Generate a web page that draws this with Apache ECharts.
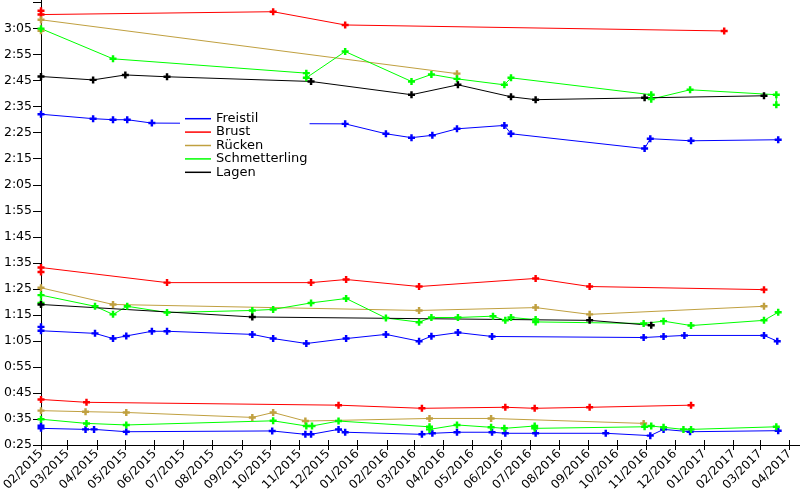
<!DOCTYPE html>
<html><head><meta charset="utf-8">
<script src="https://cdn.jsdelivr.net/npm/echarts@6/dist/echarts.min.js"></script>
<style>html,body{margin:0;padding:0;background:#fff}#c{width:800px;height:500px}</style>
</head><body><div id="c"></div>
<script>
const strokes = ['Freistil', 'Brust', 'Rücken', 'Schmetterling', 'Lagen'];
const colors = ['#0000ff', '#ff0000', '#c0a040', '#00ff00', '#000000'];

const freistil50 = [['2015-02-01',32.4],['2015-02-01',31.4],['2015-03-20',31.0],['2015-03-29',31.0],['2015-05-02',30.1],['2015-10-03',30.4],['2015-11-07',29.1],['2015-11-13',29.1],['2015-12-12',31.0],['2015-12-19',29.9],['2016-03-09',29.1],['2016-03-20',29.5],['2016-04-15',29.9],['2016-05-22',29.9],['2016-06-05',29.5],['2016-07-07',29.5],['2016-09-19',29.5],['2016-11-05',28.6],['2016-11-19',31.0],['2016-12-17',30.1],['2017-03-20',30.5]];
const freistil100 = [['2015-02-01',70.4],['2015-02-01',68.9],['2015-03-30',67.9],['2015-04-18',65.9],['2015-05-02',66.9],['2015-05-29',68.7],['2015-06-14',68.7],['2015-09-12',67.5],['2015-10-04',65.9],['2015-11-08',64.0],['2015-12-20',65.9],['2016-01-31',67.5],['2016-03-06',64.9],['2016-03-19',66.8],['2016-04-16',68.2],['2016-05-22',66.7],['2016-10-29',66.3],['2016-11-19',66.7],['2016-12-11',67.1],['2017-03-05',67.1],['2017-03-19',64.9]];
const freistil200 = [['2015-02-01',152.1],['2015-03-28',150.4],['2015-04-18',150.0],['2015-05-03',150.0],['2015-05-29',148.7],['2015-12-19',148.4],['2016-01-31',144.6],['2016-02-27',143.1],['2016-03-20',144.0],['2016-04-15',146.5],['2016-06-04',147.8],['2016-06-11',144.6],['2016-10-30',138.9],['2016-11-05',142.7],['2016-12-18',141.9],['2017-03-20',142.3]];

const brust50 = [['2015-02-01',42.5],['2015-03-21',41.4],['2015-12-12',40.3],['2016-03-09',39.1],['2016-06-05',39.5],['2016-07-06',39.1],['2016-09-02',39.5],['2016-12-18',40.3]];
const brust100 = [['2015-02-01',91.5],['2015-02-01',93.2],['2015-06-14',87.4],['2015-11-13',87.4],['2015-12-20',88.6],['2016-03-06',85.9],['2016-07-07',89.0],['2016-09-02',85.9],['2017-03-05',84.7]];
const brust200 = [['2015-02-01',191.9],['2015-02-01',190.4],['2015-10-04',191.5],['2015-12-19',186.4],['2017-01-22',184.1]];

const ruecken50 = [['2015-02-01',38.2],['2015-03-20',37.8],['2015-05-02',37.5],['2015-09-12',35.6],['2015-10-04',37.5],['2015-11-07',34.2],['2016-03-17',35.2],['2016-05-21',35.2],['2016-10-29',33.3]];
const ruecken100 = [['2015-02-01',85.4],['2015-04-18',79.0],['2016-03-06',76.7],['2016-07-07',77.8],['2016-09-02',75.2],['2017-03-05',78.3]];
const ruecken200 = [['2015-02-01',184.2],['2015-02-01',188.4],['2016-04-15',167.7]];

const schmetterling50 = [['2015-02-01',34.9],['2015-03-21',33.3],['2015-05-02',32.7],['2015-10-04',34.3],['2015-11-08',32.3],['2015-11-14',32.3],['2015-12-12',34.2],['2016-03-17',32.0],['2016-03-17',31.0],['2016-04-15',32.7],['2016-05-21',31.8],['2016-06-04',31.4],['2016-07-06',32.3],['2016-07-06',31.4],['2016-10-30',32.0],['2016-11-06',32.3],['2016-11-19',31.8],['2016-12-10',31.0],['2016-12-18',31.0],['2017-03-18',32.0]];
const schmetterling100 = [['2015-02-01',79.6],['2015-02-01',82.6],['2015-03-30',78.3],['2015-04-18',75.2],['2015-05-03',78.3],['2015-06-14',75.9],['2015-09-12',76.7],['2015-10-04',77.1],['2015-11-13',79.6],['2015-12-20',81.3],['2016-01-31',73.8],['2016-03-06',72.2],['2016-03-19',74.0],['2016-04-16',74.0],['2016-05-23',74.5],['2016-06-05',72.9],['2016-06-11',74.0],['2016-07-07',73.2],['2016-07-07',72.3],['2016-10-29',71.7],['2016-11-19',72.6],['2016-12-18',70.9],['2017-03-05',72.9],['2017-03-20',76.0]];
const schmetterling200 = [['2015-02-01',185.0],['2015-04-18',173.4],['2015-11-08',167.9],['2015-11-08',166.1],['2015-12-19',176.2],['2016-02-27',164.7],['2016-03-19',167.4],['2016-04-15',165.7],['2016-06-04',163.4],['2016-06-11',166.1],['2016-11-06',159.6],['2016-11-06',157.9],['2016-12-17',161.5],['2017-03-18',159.6],['2017-03-18',155.7]];

const lagen100 = [['2015-02-01',79.0],['2015-09-12',74.2],['2016-09-02',72.9],['2016-11-06',71.0]];
const lagen200 = [['2015-02-01',166.6],['2015-03-28',165.3],['2015-05-01',167.2],['2015-06-14',166.5],['2015-11-13',164.7],['2016-02-27',159.6],['2016-04-16',163.4],['2016-06-11',158.8],['2016-07-07',157.7],['2016-10-30',158.4],['2017-03-05',159.2]];

const yTickStart = 25, yTickStep = 10, yLastLabel = 185;
const xMin = '2015-02-01', xMax = '2017-04-12';

const seriesByStroke = {
  'Freistil': [freistil50, freistil100, freistil200],
  'Brust': [brust50, brust100, brust200],
  'Rücken': [ruecken50, ruecken100, ruecken200],
  'Schmetterling': [schmetterling50, schmetterling100, schmetterling200],
  'Lagen': [lagen100, lagen200]
};

const pad = n => (n < 10 ? '0' : '') + n;
const plus = 'path://M2.6,0H5.4V2.6H8V5.4H5.4V8H2.6V5.4H0V2.6H2.6Z';
const FONT = 'DejaVu Sans';

const series = [];
strokes.forEach((s, i) => {
  seriesByStroke[s].forEach(d => {
    series.push({
      type: 'line', name: s, data: d,
      symbol: plus, symbolSize: 7, showAllSymbol: true, clip: false,
      animation: false,
      lineStyle: { color: colors[i], width: 1 },
      itemStyle: { color: colors[i] },
      emphasis: { disabled: true }
    });
  });
});

const chart = echarts.init(document.getElementById('c'), null, { renderer: 'canvas' });
chart.setOption({
  backgroundColor: '#ffffff',
  animation: false,
  grid: { left: 41, right: 0, top: 0, bottom: 55, containLabel: false, outerBoundsMode: 'none' },
  legend: {
    data: strokes, orient: 'vertical', left: 180, top: 107,
    backgroundColor: '#ffffff', padding: [5, 2, 5, 5],
    itemWidth: 26, itemHeight: 1.5, itemGap: 0, icon: 'rect',
    textStyle: { fontFamily: FONT, fontSize: 13, color: '#000', lineHeight: 13.4 },
    selectedMode: false
  },
  tooltip: { show: false },
  xAxis: [{
    type: 'time', min: xMin, max: xMax,
    splitNumber: 27, minInterval: 28 * 864e5, maxInterval: 31 * 864e5,
    splitLine: { show: false },
    axisLine: { lineStyle: { color: '#000', width: 1 } },
    axisTick: { length: 5, lineStyle: { color: '#000' } },
    axisLabel: {
      rotate: 45, margin: 7, color: '#000', fontFamily: FONT, fontSize: 12,
      showMaxLabel: false,
      formatter: v => { const d = new Date(v); return pad(d.getMonth() + 1) + '/' + d.getFullYear(); }
    }
  }, {
    type: 'time', min: xMin, max: xMax, position: 'bottom',
    splitNumber: 27, minInterval: 28 * 864e5, maxInterval: 31 * 864e5,
    splitLine: { show: false },
    axisLine: { show: false },
    axisTick: { inside: true, length: 5, lineStyle: { color: '#000' } },
    axisLabel: { show: false }
  }],
  yAxis: {
    type: 'value', min: yTickStart, max: 196, interval: yTickStep,
    splitLine: { show: false },
    axisLine: { show: true, lineStyle: { color: '#000', width: 1 } },
    axisTick: { show: true, length: 8, lineStyle: { color: '#000' } },
    axisLabel: {
      color: '#000', fontFamily: FONT, fontSize: 12.5, margin: 9, showMaxLabel: false,
      formatter: v => v > yLastLabel ? '' : Math.floor(v / 60) + ':' + pad(Math.round(v % 60))
    }
  },
  series: series
});
</script>
</body></html>
